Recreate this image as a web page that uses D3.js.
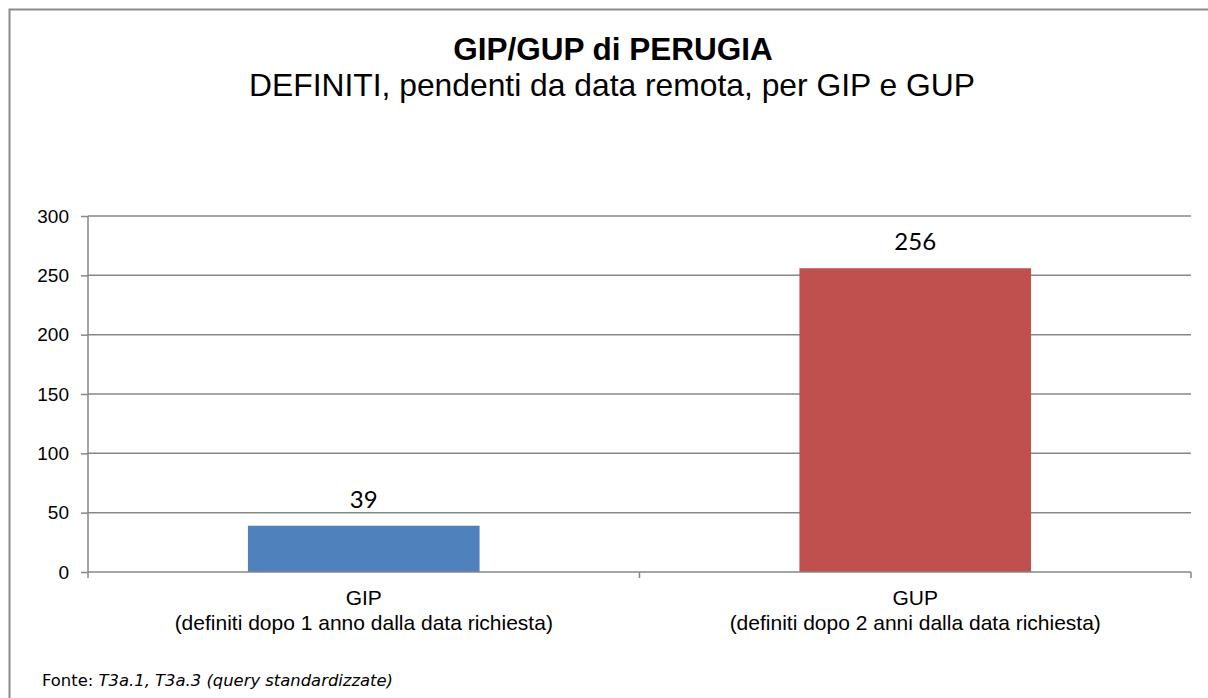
<!DOCTYPE html>
<html>
<head>
<meta charset="utf-8">
<script src="https://cdn.jsdelivr.net/npm/d3@7"></script>
<style>
  html, body { margin: 0; padding: 0; background: #fff; }
  svg { display: block; }
</style>
</head>
<body>
<svg id="chart" width="1208" height="698"></svg>
<script>
const categories = ["GIP", "GUP"];
const categoryNotes = ["(definiti dopo 1 anno dalla data richiesta)", "(definiti dopo 2 anni dalla data richiesta)"];
const values = [39, 256];
const barColors = ["#4F81BD", "#C0504D"];
const yTicks = [0, 50, 100, 150, 200, 250, 300];
const titleText = "GIP/GUP di PERUGIA";
const subtitleText = "DEFINITI, pendenti da data remota, per GIP e GUP";

const svg = d3.select("#chart");
const W = 1208, H = 698;
const m = { left: 88, right: 1191, top: 216, bottom: 572 };

// outer frame
svg.append("path")
  .attr("d", `M9.5,${H} L9.5,9.5 L${W},9.5`)
  .attr("fill", "none").attr("stroke", "#8c8c8c").attr("stroke-width", 2);

// titles
svg.append("text").attr("x", 613).attr("y", 60)
  .attr("text-anchor", "middle")
  .style("font-family", "'Liberation Sans', Arial, sans-serif")
  .style("font-weight", "bold").style("font-size", "31.5px")
  .text(titleText);
svg.append("text").attr("x", 612).attr("y", 96)
  .attr("text-anchor", "middle")
  .style("font-family", "'Liberation Sans', Arial, sans-serif")
  .style("font-size", "31.8px")
  .text(subtitleText);

const x = d3.scaleBand().domain(categories).range([m.left, m.right]).padding(0);
const y = d3.scaleLinear().domain([0, 300]).range([m.bottom, m.top]);

// gridlines
svg.append("g").selectAll("line").data(yTicks.filter(d => d > 0)).join("line")
  .attr("x1", m.left).attr("x2", m.right)
  .attr("y1", d => y(d)).attr("y2", d => y(d))
  .attr("stroke", "#878787").attr("stroke-width", 1.5);

// y axis
const yAxis = svg.append("g").attr("transform", `translate(${m.left},0)`)
  .call(d3.axisLeft(y).tickValues(yTicks).tickSize(7).tickPadding(12));
yAxis.select(".domain").attr("stroke", "#878787").attr("stroke-width", 1.5)
  .attr("d", `M0,${m.top}V${m.bottom}`);
yAxis.selectAll(".tick line").attr("stroke", "#878787").attr("stroke-width", 1.5);
yAxis.selectAll(".tick text")
  .style("font-family", "'Liberation Sans', Arial, sans-serif")
  .style("font-size", "19px").attr("fill", "#000");

// bars
const barFrac = 0.42;
svg.append("g").selectAll("rect").data(values).join("rect")
  .attr("x", (d, i) => x(categories[i]) + x.bandwidth() * (1 - barFrac) / 2)
  .attr("width", x.bandwidth() * barFrac)
  .attr("y", d => y(d))
  .attr("height", d => y(0) - y(d))
  .attr("fill", (d, i) => barColors[i]);

// data labels
svg.append("g").selectAll("text").data(values).join("text")
  .attr("x", (d, i) => x(categories[i]) + x.bandwidth() / 2)
  .attr("y", d => y(d) - 18)
  .attr("text-anchor", "middle")
  .style("font-family", "Lato, 'Open Sans', sans-serif")
  .style("font-size", "24px")
  .text(d => d);

// x axis
const xAxisG = svg.append("g").attr("transform", `translate(0,${m.bottom})`);
xAxisG.append("line").attr("x1", m.left).attr("x2", m.right)
  .attr("stroke", "#878787").attr("stroke-width", 1.5);
const boundaries = [m.left].concat(categories.map(c => x(c) + x.bandwidth()));
xAxisG.selectAll("line.tk").data(boundaries).join("line").attr("class", "tk")
  .attr("x1", d => d).attr("x2", d => d).attr("y1", 0).attr("y2", 6)
  .attr("stroke", "#878787").attr("stroke-width", 1.5);

const catG = svg.append("g").selectAll("text").data(categories).join("text")
  .attr("text-anchor", "middle")
  .style("font-family", "'Liberation Sans', Arial, sans-serif")
  .style("font-size", "21px");
catG.append("tspan").attr("x", d => x(d) + x.bandwidth() / 2).attr("y", 605).text(d => d);
catG.append("tspan").attr("x", d => x(d) + x.bandwidth() / 2).attr("y", 630)
  .text((d, i) => categoryNotes[i]);

// source
const src = svg.append("text").attr("x", 42).attr("y", 686)
  .style("font-family", "'DejaVu Sans', Verdana, sans-serif")
  .style("font-size", "16.4px");
src.append("tspan").text("Fonte: ");
src.append("tspan").style("font-style", "italic").text("T3a.1, T3a.3 (query standardizzate)");
</script>
</body>
</html>
